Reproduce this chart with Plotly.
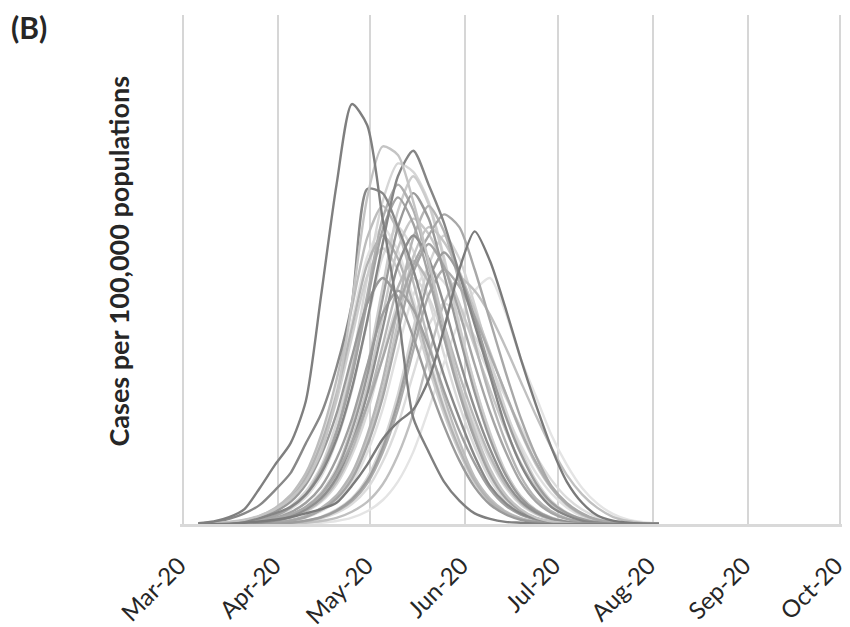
import plotly.graph_objects as go

# 5-day sampling grid (dates)
dates = ["2020-03-06","2020-03-11","2020-03-16","2020-03-21","2020-03-26","2020-03-31",
         "2020-04-05","2020-04-10","2020-04-15","2020-04-20","2020-04-25","2020-04-30",
         "2020-05-05","2020-05-10","2020-05-15","2020-05-20","2020-05-25","2020-05-30",
         "2020-06-04","2020-06-09","2020-06-14","2020-06-19","2020-06-24","2020-06-29",
         "2020-07-04","2020-07-09","2020-07-14","2020-07-19","2020-07-24","2020-07-29",
         "2020-08-03"]

month_ticks = ["2020-03-01","2020-04-01","2020-05-01","2020-06-01",
               "2020-07-01","2020-08-01","2020-09-01","2020-10-01"]
month_labels = ["Mar-20","Apr-20","May-20","Jun-20","Jul-20","Aug-20","Sep-20","Oct-20"]

# Cases per 100,000 (arbitrary units; axis 0-120)
cA  = [0.2,0.6,1.6,3.5,8.5,14,19,29,54,80,99,94,72,50,25,17,10,5.5,2.5,1.2,0.5,0.3,0.1,0,0,0,0,0,0,0,0]
cA2 = [0.1,0.4,1.2,2.5,4.5,8,12,19,26,37,52,79,78,70,60,47,35,25,16,9,5,2.5,1.2,0.5,0.2,0,0,0,0,0,0]
cB  = [0,0.2,0.5,1,2,3.5,6,10,17,30,52,77,89,87,76,62,47,33,22,13,7,3.5,1.5,0.6,0.2,0,0,0,0,0,0]
cC  = [0,0.1,0.3,0.7,1.4,2.5,4,7,12,20,32,48,66,82,88,80,71,59,47,35,23,14,8,4,2,0.8,0.3,0,0,0,0]
cD  = [0,0,0.1,0.3,0.7,1.3,2.3,4,7,12,19,28,39,51,61,68,73,70,60,48,36,25,16,9,5,2.5,1,0.4,0.1,0,0]
cE  = [0,0,0.1,0.3,0.6,1,1.6,2.5,3.5,5,9,14,20,24,27,34,46,60,69,62,51,39,28,18,10,5,2,0.8,0.3,0.1,0]
f01 = [0,0,0.1,0.4,1,2,4,7,13,22,36,54,72,80,74,61,46,32,21,12,6.4,3.2,1.4,0.6,0.2,0,0,0,0,0,0]
f02 = [0,0,0.1,0.4,1,2.1,4.2,7.7,13.6,24,38,58,76,85,83,76,63,47,33,21.6,12.5,6.6,3.3,1.5,0.6,0.2,0,0,0,0,0]
f03 = [0,0,0,0.1,0.4,0.9,2,3.9,7,12.5,22,35,53,70,78,72,59,44.5,31,20,11.7,6.2,3.1,1.4,0.5,0.1,0,0,0,0,0]
f04 = [0,0.1,0.4,0.9,1.9,3.8,6.8,12,21,34,51,67.5,75,69,57,43,30,19.5,11,6,3,1.4,0.5,0.1,0,0,0,0,0,0,0]
f05 = [0,0,0.1,0.35,0.8,1.8,3.5,6.3,11.2,19.6,31.5,47.6,63,70,64.4,53,40,28,18.2,10.5,5.6,2.8,1.3,0.5,0.1,0,0,0,0,0,0]
f06 = [0,0,0,0.1,0.36,0.9,1.8,3.6,6.5,11.5,20,32.4,49,65,72,68.4,61,52,41.8,31.7,22.3,14.4,8.6,4.7,2.2,0.9,0.3,0,0,0,0]
f07 = [0,0,0,0,0.1,0.33,0.8,1.65,3.3,6,10.6,18.5,29.7,45,59.4,66,60.7,50,37.6,26.4,17.2,9.9,5.3,2.6,1.2,0.5,0.1,0,0,0,0]
f08 = [0,0,0.3,0.8,1.6,3.25,5.9,10.4,18,29,44,58.5,65,60,49.4,37,26,17,9.75,5.2,2.6,1.2,0.45,0.1,0,0,0,0,0,0,0]
f09 = [0,0,0,0.1,0.3,0.75,1.55,3.1,5.6,10,17.4,28,42,55.8,62,57,47,35.3,24.8,16,9.3,5,2.5,1.1,0.4,0.1,0,0,0,0,0]
f10 = [0,0,0,0,0.1,0.3,0.7,1.5,3,5.4,9.6,16.8,27,41,54,60,57,51,43,35,26.4,18.6,12,7.2,3.9,1.8,0.7,0.25,0,0,0]
f11 = [0,0,0,0,0,0.1,0.34,0.8,1.7,3.4,6.1,10.9,19,30.6,46,61,68,62.6,51.7,38.8,27.2,17.7,10.2,5.4,2.7,1.2,0.5,0.1,0,0,0]
f12 = [0,0,0,0,0,0,0.1,0.3,0.7,1.45,2.9,5.2,9.3,16.2,26,39.4,52,58,55,49.3,41.8,33.6,25.5,18,11.6,7,3.8,1.7,0.7,0.2,0]
f13 = [0,0,0.1,0.3,0.66,1.4,2.75,5,8.8,15.4,24.75,37.4,49.5,55,50.6,41.8,31.4,22,14.3,8.25,4.4,2.2,1,0.4,0.1,0,0,0,0,0,0]
f14 = [0,0,0,0,0,0.1,0.26,0.6,1.3,2.6,4.7,8.3,14.6,23.4,35.4,46.8,52,49.4,44.2,37.4,30,22.9,16,10.4,6.2,3.4,1.6,0.6,0.2,0,0]
f15 = [0,0,0,0,0,0,0,0.1,0.3,0.7,1.5,3,5.6,10,17,27,38,48,55,58,50,39,30,21,14,8.5,4.8,2.4,1,0.4,0.1]
f16 = [0,0.1,0.3,0.7,1.45,2.9,5.2,9.3,16.2,26,39.4,52,58,53.4,44,33,23.2,15,8.7,4.6,2.3,1,0.4,0.1,0,0,0,0,0,0,0]
f17 = [0,0,0,0,0.1,0.4,0.9,1.9,3.75,6.75,12,21,33.75,51,67.5,75,69,57,42.75,30,19.5,11.25,6,3,1.35,0.5,0.1,0,0,0,0]
f18 = [0,0,0,0.1,0.34,0.8,1.7,3.4,6.1,10.9,19,30.6,46,61,68,62.6,51.7,38.8,27.2,17.7,10.2,5.4,2.7,1.2,0.5,0.1,0,0,0,0,0]
f19 = [0,0.1,0.35,0.84,1.75,3.5,6.3,11.2,19.6,31.5,47.6,63,70,64.4,53.2,40,28,18.2,10.5,5.6,2.8,1.3,0.5,0.1,0,0,0,0,0,0,0]
f20 = [0,0,0,0,0,0,0.3,0.7,1.5,3,5.4,9.6,16.8,27,41,54,60,56,49,40,31,22,14.5,8.6,4.7,2.3,1,0.35,0.1,0,0]
f21 = [0,0,0.1,0.4,0.9,1.9,3.85,6.9,12.3,21.6,34.7,52.4,69.3,77,70.8,58.5,43.9,30.8,20,11.6,6.2,3.1,1.4,0.5,0.1,0,0,0,0,0,0]
f22 = [0,0,0,0.1,0.4,1,2,4.1,7.4,13.1,23,36.9,55.8,73.8,82,75.4,62.3,46.7,32.8,21.3,12.3,6.6,3.3,1.5,0.6,0.1,0,0,0,0,0]
f23 = [0,0.1,0.3,0.8,1.7,3.4,6.1,10.9,19,30.6,46.2,61.2,68,62.6,51.7,38.8,27.2,17.7,10.2,5.4,2.7,1.2,0.5,0.1,0,0,0,0,0,0,0]
f24 = [0,0,0,0,0.1,0.35,0.84,1.75,3.5,6.3,11.2,19.6,31.5,47.6,63,70,66.5,59.5,50.4,40.6,30.8,21.7,14,8.4,4.5,2.1,0.8,0.2,0,0,0]
f25 = [0,0,0,0,0,0.1,0.3,0.8,1.6,3.2,5.8,10.2,17.9,28.8,43.5,57.6,64,58.9,48.6,36.5,25.6,16.6,9.6,5.1,2.6,1.2,0.4,0.1,0,0,0]
f26 = [0,0,0,0.1,0.3,0.7,1.45,2.9,5.2,9.3,16.2,26.1,39.4,52.2,58,53.4,44,33,23.2,15,8.7,4.6,2.3,1,0.4,0.1,0,0,0,0,0]

# drawing order and gray shades
series = [f10, f05, f19, f14, f26, f15, f02, f11, f08, f22, f06, f04, f24, f12, f09, f17,
          f01, f23, f20, f07, f21, f13, f16, f25, f03, f18, cD, cC, cA2, cB, cE, cA]
shades = ["#e0e0e0", "#dadada", "#e2e2e2", "#dcdcdc", "#d8d8d8", "#e4e4e4", "#d6d6d6", "#d4d4d4",
          "#cfcfcf", "#cccccc", "#c8c8c8", "#bdbdbd", "#c5c5c5", "#c0c0c0", "#b8b8b8", "#b5b5b5",
          "#b0b0b0", "#b3b3b3", "#acacac", "#a5a5a5", "#a3a3a3", "#a0a0a0", "#9a9a9a", "#9d9d9d",
          "#999999", "#8f8f8f", "#a8a8a8", "#858585", "#888888", "#c4c4c4", "#7a7a7a", "#7f7f7f"]

fig = go.Figure()
for vals, col in zip(series, shades):
    fig.add_trace(go.Scatter(x=dates[:len(vals)], y=vals, mode="lines",
                             line=dict(color=col, width=2.4, shape="spline", smoothing=0.7),
                             hoverinfo="skip"))

# page offset of the plot div (default body margin)
OFF = 8
W, H = 850 - OFF, 627 - OFF
PL, PR, PT, PB = 180, 843, 15, 524          # plot area in page pixels (1 day padding each side)
L, R, T, B = PL - OFF, 850 - PR, PT - OFF, 627 - PB
pw, ph = PR - PL, PB - PT

fig.update_layout(
    width=W, height=H,
    margin=dict(l=L, r=R, t=T, b=B, autoexpand=False),
    plot_bgcolor="white", paper_bgcolor="white",
    showlegend=False,
    xaxis=dict(type="date", range=["2020-02-29", "2020-10-02"],
               tickmode="array", tickvals=month_ticks, ticktext=month_labels,
               tickangle=-45, ticks="", ticklabelstandoff=15, ticklabelshift=-4,
               ticklabeloverflow="allow",
               tickfont=dict(family="Lato", size=24, color="#262626"),
               showgrid=True, gridcolor="#d6d6d6", gridwidth=1.5,
               showline=True, linecolor="#d9d9d9", linewidth=3,
               zeroline=False, automargin=False),
    yaxis=dict(range=[0, 120], showticklabels=False, showgrid=False,
               zeroline=False, showline=False, ticks="", automargin=False),
)

fig.add_annotation(text="<b>Cases per 100,000 populations</b>",
                   xref="paper", yref="paper",
                   x=(118 - PL) / pw, y=1 - (261.5 - PT) / ph,
                   xanchor="center", yanchor="middle", textangle=-90,
                   showarrow=False,
                   font=dict(family="Lato", size=27, color="#262626"))
fig.add_annotation(text="<b>(B)</b>",
                   xref="paper", yref="paper",
                   x=(9 - PL) / pw, y=1 - (27 - PT) / ph,
                   xanchor="left", yanchor="middle",
                   showarrow=False,
                   font=dict(family="Lato", size=30, color="#262626"))

fig.write_html("out.html")
